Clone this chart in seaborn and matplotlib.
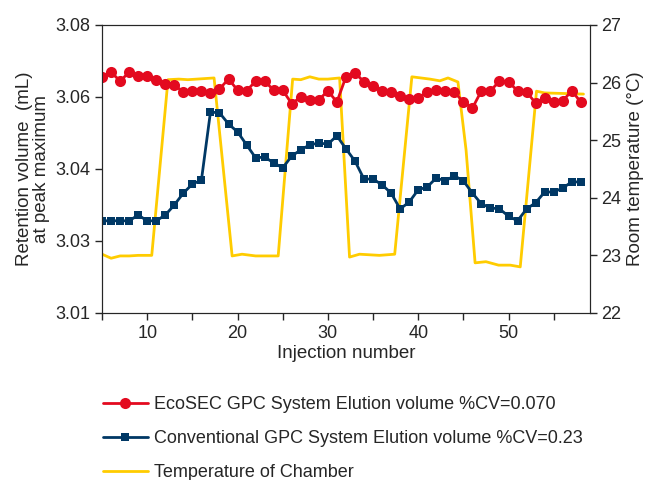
import numpy as np
import pandas as pd
import matplotlib.pyplot as plt
import seaborn as sns

# injection numbers
inj = list(range(5, 59))

# EcoSEC retention volume (mL)
ecosec = [3.0656, 3.0669, 3.0644, 3.0669, 3.0658, 3.0658, 3.0647, 3.0636, 3.0633, 3.0614,
          3.0617, 3.0617, 3.0611, 3.0622, 3.0650, 3.0619, 3.0617, 3.0644, 3.0644, 3.0619,
          3.0619, 3.0581, 3.0600, 3.0592, 3.0592, 3.0617, 3.0586, 3.0656, 3.0667, 3.0642,
          3.0631, 3.0617, 3.0614, 3.0603, 3.0594, 3.0597, 3.0614, 3.0619, 3.0617, 3.0614,
          3.0586, 3.0569, 3.0617, 3.0617, 3.0644, 3.0642, 3.0617, 3.0614, 3.0583, 3.0597,
          3.0586, 3.0589, 3.0617, 3.0586]

# conventional GPC retention volume (mL)
conventional = [3.0256, 3.0256, 3.0256, 3.0256, 3.0272, 3.0256, 3.0256, 3.0272, 3.0300, 3.0333,
                3.0358, 3.0369, 3.0558, 3.0556, 3.0525, 3.0503, 3.0467, 3.0431, 3.0433, 3.0417,
                3.0403, 3.0436, 3.0453, 3.0467, 3.0472, 3.0469, 3.0492, 3.0456, 3.0422, 3.0372,
                3.0372, 3.0356, 3.0333, 3.0289, 3.0308, 3.0342, 3.0350, 3.0375, 3.0367, 3.0381,
                3.0367, 3.0333, 3.0303, 3.0292, 3.0289, 3.0269, 3.0256, 3.0289, 3.0306, 3.0336,
                3.0336, 3.0347, 3.0364, 3.0364]

# chamber temperature (deg C)
temp_x = [5, 6, 7, 8, 9, 10.5, 12.3, 13.5, 14.5, 15.5, 17.4, 19.4, 20.5, 22, 23, 24.5,
          26.1, 27, 28, 29, 30, 31.3, 32.4, 33.5, 35.7, 37.4, 39.3, 41.3, 42.4, 43.3, 44.4,
          45.3, 46.3, 47.5, 48.9, 50.2, 51.3, 53.1, 54, 58.3]
temp = [23.02, 22.95, 22.99, 22.99, 23.0, 23.0, 26.05, 26.06, 26.05, 26.06, 26.08, 22.99,
        23.02, 22.99, 22.99, 22.99, 26.06, 26.05, 26.1, 26.06, 26.06, 26.08, 22.97, 23.02,
        23.0, 23.02, 26.1, 26.06, 26.03, 26.08, 26.01, 24.83, 22.87, 22.89, 22.83, 22.83,
        22.80, 25.85, 25.82, 25.80]

left_ticks = [3.00, 3.02, 3.04, 3.06, 3.08]
left_labels = ['3.01', '3.03', '3.04', '3.06', '3.08']

sns.set_style("ticks")
plt.rcParams['font.family'] = ['Liberation Sans', 'DejaVu Sans']

red = '#e30a1f'
navy = '#003865'
yellow = '#ffcc00'

fig = plt.figure(figsize=(6.46, 4.8), dpi=100)
ax = fig.add_axes([0.158, 0.348, 0.755, 0.6])
ax2 = ax.twinx()

sns.lineplot(x=temp_x, y=temp, ax=ax2, color=yellow, lw=2,
             label='Temperature of Chamber', legend=False)
sns.lineplot(x=inj, y=conventional, ax=ax, color=navy, lw=2, marker='s', markersize=6,
             markeredgewidth=0, label='Conventional GPC System Elution volume %CV=0.23', legend=False)
sns.lineplot(x=inj, y=ecosec, ax=ax, color=red, lw=2, marker='o', markersize=8,
             markeredgewidth=0, label='EcoSEC GPC System Elution volume %CV=0.070', legend=False)

ax.set_zorder(ax2.get_zorder() + 1)
ax.patch.set_visible(False)

ax.set_xlim(5, 59)
ax.set_ylim(3.00, 3.08)
ax.set_yticks(left_ticks)
ax.set_yticklabels(left_labels)
ax.set_xticks(range(10, 60, 10))
ax.set_xticks(range(5, 60, 5), minor=True)
ax.tick_params(axis='x', which='minor', length=5, width=1)
ax.tick_params(labelsize=13, length=5, width=1)
ax2.set_ylim(22, 27)
ax2.set_yticks(range(22, 28))
ax2.tick_params(labelsize=13, length=5, width=1)

ax.set_xlabel('Injection number', fontsize=13.5, labelpad=2)
ax.set_ylabel('Retention volume  (mL)\nat peak maximum', fontsize=13.5, linespacing=1.0, labelpad=4)
ax2.set_ylabel('Room temperature (°C)', fontsize=13.5, labelpad=4)

h1, l1 = ax.get_legend_handles_labels()
h2, l2 = ax2.get_legend_handles_labels()
fig.legend(h1[::-1] + h2, l1[::-1] + l2, loc='upper left', bbox_to_anchor=(0.148, 0.19),
           frameon=False, fontsize=13, handlelength=2.5, labelspacing=0.95,
           borderaxespad=0, handletextpad=0.35)

fig.savefig('out.png', dpi=100)
